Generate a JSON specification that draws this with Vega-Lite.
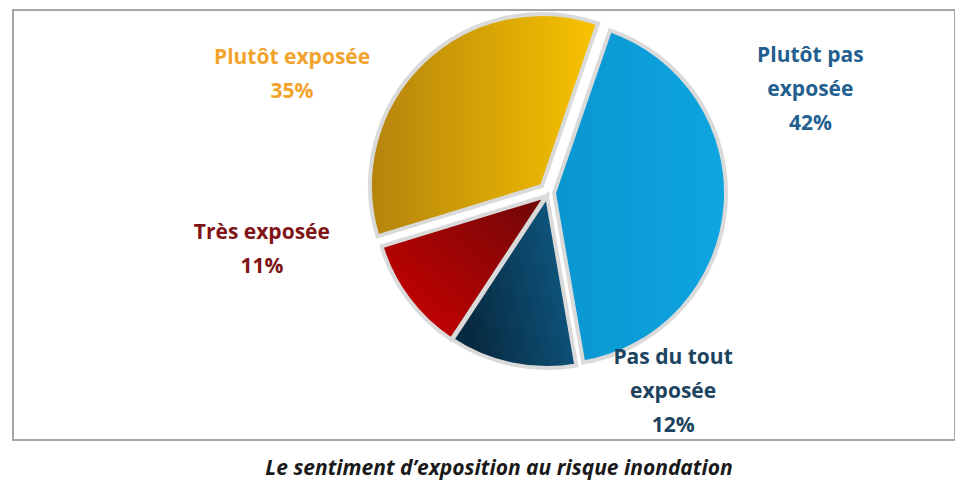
{
  "$schema": "https://vega.github.io/schema/vega-lite/v6.json",
  "width": 942,
  "height": 430,
  "autosize": {"type": "none"},
  "padding": {"left": 13, "top": 10, "right": 0, "bottom": 40},
  "background": "white",
  "config": {"view": {"stroke": null}},
  "title": {
    "text": "Le sentiment d’exposition au risque inondation",
    "orient": "bottom",
    "anchor": "middle",
    "offset": 17,
    "dx": 15,
    "font": "Open Sans",
    "fontSize": 21,
    "fontWeight": "bold",
    "fontStyle": "italic",
    "color": "#1a1a1a"
  },
  "data": {
    "values": [
      {"cat": "Plutôt pas exposée", "pct": 42, "ord": 1, "lbl": "Plutôt pas\nexposée"},
      {"cat": "Pas du tout exposée", "pct": 12, "ord": 2, "lbl": "Pas du tout\nexposée"},
      {"cat": "Très exposée", "pct": 11, "ord": 3, "lbl": "Très exposée"},
      {"cat": "Plutôt exposée", "pct": 35, "ord": 4, "lbl": "Plutôt exposée"}
    ]
  },
  "transform": [
    {"stack": "pct", "groupby": [], "sort": [{"field": "ord"}], "as": ["t0", "t1"]},
    {"calculate": "(datum.t0 + datum.t1) / 2", "as": "mid"},
    {"calculate": "datum.lbl + '\\n' + datum.pct + '%'", "as": "txt"}
  ],
  "layer": [
    {
      "transform": [{"filter": "datum.ord == 1"}],
      "mark": {"type": "rect", "fill": null, "stroke": "#a6a6a6", "strokeWidth": 2},
      "encoding": {
        "x": {"value": 0}, "x2": {"value": "width"},
        "y": {"value": 0}, "y2": {"value": "height"}
      }
    },
    {
      "transform": [{"filter": "datum.ord == 1"}],
      "mark": {"type": "arc", "outerRadius": 172, "xOffset": 70, "yOffset": -32,
        "fill": {"gradient": "linear", "x1": 0, "y1": 0, "x2": 1, "y2": 0,
          "stops": [{"offset": 0, "color": "#0996d0"}, {"offset": 1, "color": "#0ea5e0"}]},
        "stroke": "#dadada", "strokeWidth": 4},
      "encoding": {
        "theta": {"field": "t0", "type": "quantitative", "scale": {"type": "linear", "domain": [0, 100], "range": [0.3316, 6.6148]}},
        "theta2": {"field": "t1"}
      }
    },
    {
      "transform": [{"filter": "datum.ord == 2"}],
      "mark": {"type": "arc", "outerRadius": 172, "xOffset": 63, "yOffset": -29,
        "fill": {"gradient": "linear", "x1": 0, "y1": 0.3, "x2": 1, "y2": 0,
          "stops": [{"offset": 0, "color": "#082a40"}, {"offset": 1, "color": "#0f5f8c"}]},
        "stroke": "#dadada", "strokeWidth": 4},
      "encoding": {
        "theta": {"field": "t0", "type": "quantitative", "scale": {"type": "linear", "domain": [0, 100], "range": [0.3316, 6.6148]}},
        "theta2": {"field": "t1"}
      }
    },
    {
      "transform": [{"filter": "datum.ord == 3"}],
      "mark": {"type": "arc", "outerRadius": 172, "xOffset": 62, "yOffset": -29,
        "fill": {"gradient": "linear", "x1": 0, "y1": 1, "x2": 1, "y2": 0,
          "stops": [{"offset": 0, "color": "#d20000"}, {"offset": 1, "color": "#6e0808"}]},
        "stroke": "#dadada", "strokeWidth": 4},
      "encoding": {
        "theta": {"field": "t0", "type": "quantitative", "scale": {"type": "linear", "domain": [0, 100], "range": [0.3316, 6.6148]}},
        "theta2": {"field": "t1"}
      }
    },
    {
      "transform": [{"filter": "datum.ord == 4"}],
      "mark": {"type": "arc", "outerRadius": 172, "xOffset": 58, "yOffset": -39,
        "fill": {"gradient": "linear", "x1": 0, "y1": 0, "x2": 1, "y2": 0,
          "stops": [{"offset": 0, "color": "#b4830c"}, {"offset": 1, "color": "#f8c300"}]},
        "stroke": "#dadada", "strokeWidth": 4},
      "encoding": {
        "theta": {"field": "t0", "type": "quantitative", "scale": {"type": "linear", "domain": [0, 100], "range": [0.3316, 6.6148]}},
        "theta2": {"field": "t1"}
      }
    },
    {
      "transform": [{"filter": "datum.ord == 1"}],
      "mark": {"type": "text", "radius": 200, "xOffset": 63, "yOffset": -29, "dx": 64, "dy": -156,
        "font": "Open Sans", "fontWeight": "bold", "fontSize": 21, "lineHeight": 34, "lineBreak": "\n",
        "align": "center", "baseline": "middle", "fill": "#235f8f"},
      "encoding": {
        "theta": {"field": "mid", "type": "quantitative", "scale": {"type": "linear", "domain": [0, 100], "range": [0.3316, 6.6148]}},
        "text": {"field": "txt"}
      }
    },
    {
      "transform": [{"filter": "datum.ord == 2"}],
      "mark": {"type": "text", "radius": 200, "xOffset": 63, "yOffset": -29, "dx": 167, "dy": -34,
        "font": "Open Sans", "fontWeight": "bold", "fontSize": 21, "lineHeight": 34, "lineBreak": "\n",
        "align": "center", "baseline": "middle", "fill": "#1c4460"},
      "encoding": {
        "theta": {"field": "mid", "type": "quantitative", "scale": {"type": "linear", "domain": [0, 100], "range": [0.3316, 6.6148]}},
        "text": {"field": "txt"}
      }
    },
    {
      "transform": [{"filter": "datum.ord == 3"}],
      "mark": {"type": "text", "radius": 200, "xOffset": 63, "yOffset": -29, "dx": -125, "dy": -83,
        "font": "Open Sans", "fontWeight": "bold", "fontSize": 21, "lineHeight": 34, "lineBreak": "\n",
        "align": "center", "baseline": "middle", "fill": "#7f1416"},
      "encoding": {
        "theta": {"field": "mid", "type": "quantitative", "scale": {"type": "linear", "domain": [0, 100], "range": [0.3316, 6.6148]}},
        "text": {"field": "txt"}
      }
    },
    {
      "transform": [{"filter": "datum.ord == 4"}],
      "mark": {"type": "text", "radius": 200, "xOffset": 63, "yOffset": -29, "dx": -116, "dy": 6,
        "font": "Open Sans", "fontWeight": "bold", "fontSize": 21, "lineHeight": 34, "lineBreak": "\n",
        "align": "center", "baseline": "middle", "fill": "#f2a32c"},
      "encoding": {
        "theta": {"field": "mid", "type": "quantitative", "scale": {"type": "linear", "domain": [0, 100], "range": [0.3316, 6.6148]}},
        "text": {"field": "txt"}
      }
    }
  ]
}
